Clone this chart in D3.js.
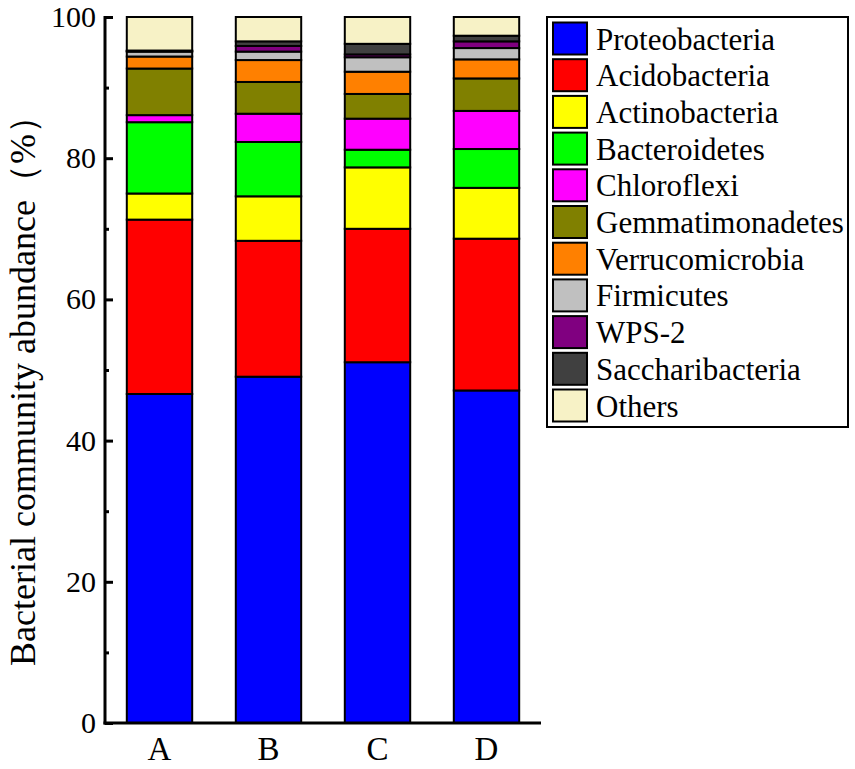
<!DOCTYPE html>
<html>
<head>
<meta charset="utf-8">
<script src="https://cdn.jsdelivr.net/npm/d3@7"></script>
<style>
    body { margin: 0; background: #fff; }
    text { font-family: "Liberation Serif", "Times New Roman", serif; }
</style>
</head>
<body>
<div id="chart"></div>
<script>
// samples on the x axis
var samples = ["A", "B", "C", "D"];

// phyla, bottom to top of each bar
var phyla = ["Proteobacteria", "Acidobacteria", "Actinobacteria", "Bacteroidetes", "Chloroflexi",
    "Gemmatimonadetes", "Verrucomicrobia", "Firmicutes", "WPS-2", "Saccharibacteria", "Others"];

// relative abundance (%) per sample A, B, C, D
var proteobacteria   = [46.6, 49.05, 51.1, 47.1];
var acidobacteria    = [24.7, 19.25, 18.9, 21.5];
var actinobacteria   = [3.7, 6.3, 8.7, 7.2];
var bacteroidetes    = [10.1, 7.7, 2.5, 5.5];
var chloroflexi      = [1.0, 4.0, 4.4, 5.4];
var gemmatimonadetes = [6.6, 4.5, 3.5, 4.6];
var verrucomicrobia  = [1.7, 3.1, 3.15, 2.7];
var firmicutes       = [0.7, 1.2, 2.05, 1.6];
var wps2             = [0.05, 0.8, 0.4, 0.95];
var saccharibacteria = [0.1, 0.65, 1.5, 0.8];
var others           = [4.75, 3.45, 3.8, 2.65];

var yTicks = [0, 20, 40, 60, 80, 100];

var colors = ["#0000ff", "#ff0000", "#ffff00", "#00ff00", "#ff00ff",
    "#808000", "#ff8000", "#c0c0c0", "#800080", "#404040", "#f7f2c6"];

function init() {
    var w = 855;
    var h = 769;

    var series = [proteobacteria, acidobacteria, actinobacteria, bacteroidetes, chloroflexi,
        gemmatimonadetes, verrucomicrobia, firmicutes, wps2, saccharibacteria, others];

    // one row per sample for d3.stack
    var table = samples.map(function (s, i) {
        var row = { sample: s };
        phyla.forEach(function (p, j) { row[p] = series[j][i]; });
        return row;
    });

    var stacked = d3.stack().keys(phyla)(table);

    var xScale = d3.scaleBand()
        .domain(samples)
        .range([105, 541])
        .paddingInner(0.4)
        .paddingOuter(0.2);

    var yScale = d3.scaleLinear()
        .domain([0, 100])
        .range([723, 17]);

    var colorScale = d3.scaleOrdinal()
        .domain(phyla)
        .range(colors);

    var svg = d3.select("#chart")
        .append("svg")
        .attr("width", w)
        .attr("height", h);

    // bars
    svg.append("g")
        .selectAll("g")
        .data(stacked)
        .enter()
        .append("g")
        .attr("fill", function (d) { return colorScale(d.key); })
        .selectAll("rect")
        .data(function (d) { return d; })
        .enter()
        .append("rect")
        .attr("x", function (d) { return xScale(d.data.sample); })
        .attr("y", function (d) { return yScale(d[1]); })
        .attr("width", xScale.bandwidth())
        .attr("height", function (d) { return yScale(d[0]) - yScale(d[1]); })
        .attr("stroke", "#000")
        .attr("stroke-width", 2);

    // y axis, ticks pointing inward
    var yAxis = svg.append("g")
        .attr("transform", "translate(105,0)")
        .call(d3.axisRight(yScale).tickValues(yTicks).tickSize(8).tickFormat(""));
    yAxis.select(".domain").remove();
    yAxis.selectAll(".tick line").attr("stroke", "#000").attr("stroke-width", 3);

    svg.append("g")
        .attr("transform", "translate(105,0)")
        .call(d3.axisRight(yScale).tickValues([10, 30, 50, 70, 90]).tickSize(4).tickFormat(""))
        .call(function (g) { g.select(".domain").remove(); })
        .selectAll(".tick line").attr("stroke", "#000").attr("stroke-width", 3);

    svg.selectAll(".ytick")
        .data(yTicks)
        .enter()
        .append("text")
        .attr("class", "ytick")
        .attr("x", 96)
        .attr("y", function (d) { return yScale(d) + 10; })
        .attr("text-anchor", "end")
        .attr("font-size", "30px")
        .text(function (d) { return d; });

    svg.append("line")
        .attr("x1", 105).attr("x2", 105)
        .attr("y1", yScale(100) - 1).attr("y2", yScale(0) + 1.5)
        .attr("stroke", "#000").attr("stroke-width", 3);

    // x axis
    var xAxis = svg.append("g")
        .attr("transform", "translate(0,723)")
        .call(d3.axisBottom(xScale).tickSize(0).tickPadding(0).tickFormat(""));
    xAxis.select(".domain").attr("stroke-width", 3).attr("d", "M103.5,0H541");

    svg.selectAll(".xlab")
        .data(samples)
        .enter()
        .append("text")
        .attr("class", "xlab")
        .attr("x", function (d) { return xScale(d) + xScale.bandwidth() / 2; })
        .attr("y", 760)
        .attr("text-anchor", "middle")
        .attr("font-size", "33px")
        .text(function (d) { return d; });

    // y title
    svg.append("text")
        .attr("transform", "translate(35,382) rotate(-90)")
        .attr("text-anchor", "middle")
        .attr("font-size", "36px")
        .text("Bacterial community abundance（%）");

    // legend
    var legend = svg.append("g");
    legend.append("rect")
        .attr("x", 547).attr("y", 17)
        .attr("width", 301).attr("height", 410)
        .attr("fill", "#fff")
        .attr("stroke", "#000")
        .attr("stroke-width", 2);

    var items = legend.selectAll(".item")
        .data(phyla)
        .enter()
        .append("g")
        .attr("class", "item")
        .attr("transform", function (d, i) { return "translate(0," + (21.5 + i * 36.7) + ")"; });

    items.append("rect")
        .attr("x", 553).attr("y", 1)
        .attr("width", 34).attr("height", 32)
        .attr("fill", function (d) { return colorScale(d); })
        .attr("stroke", "#000")
        .attr("stroke-width", 2);

    items.append("text")
        .attr("x", 596)
        .attr("y", 28)
        .attr("font-size", "31px")
        .text(function (d) { return d; });
}

window.onload = init;
</script>
</body>
</html>
